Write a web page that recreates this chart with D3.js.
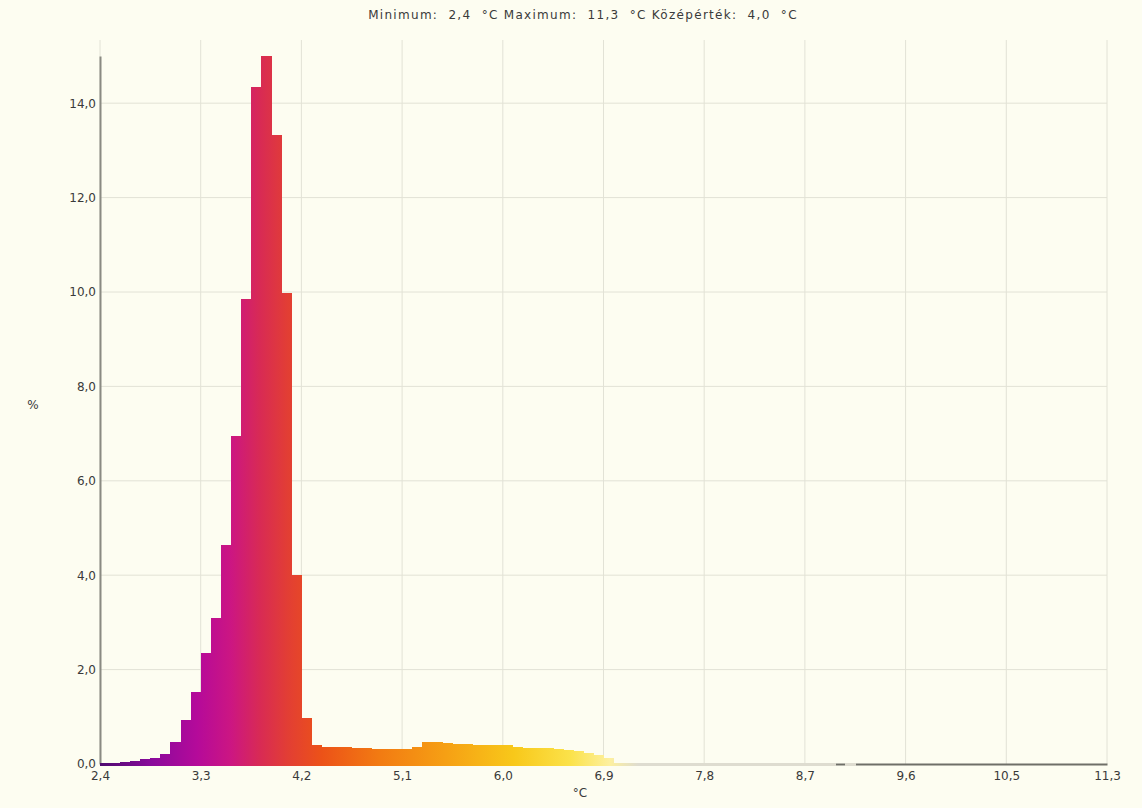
<!DOCTYPE html>
<html>
<head>
<meta charset="utf-8">
<style>
  body { margin: 0; background: #fdfdf1; }
  svg { display: block; }
  text { font-family: "DejaVu Sans", sans-serif; fill: #3a3a3a; }
</style>
</head>
<body>
<svg width="1142" height="808"></svg>
<script src="https://d3js.org/d3.v7.min.js"></script>
<script>
// temperature range of the histogram (100 equal bins)
var tMin = 2.44,
    tMax = 11.345,
    binCount = 100;

var xTickLabels = ["2,4", "3,3", "4,2", "5,1", "6,0", "6,9", "7,8", "8,7", "9,6", "10,5", "11,3"];
var yTicks = [0, 2, 4, 6, 8, 10, 12, 14];

// percent of pixels per bin, starting at tMin (bins not listed are empty)
var percent = [
  0.02, 0.03, 0.05, 0.07, 0.10, 0.12, 0.22, 0.47, 0.93, 1.52,
  2.35, 3.10, 4.64, 6.95, 9.85, 14.35, 15.0, 13.33, 9.98, 4.00,
  0.97, 0.40, 0.36, 0.35, 0.35, 0.34, 0.33, 0.32, 0.32, 0.31,
  0.32, 0.36, 0.46, 0.47, 0.45, 0.43, 0.42, 0.40, 0.41, 0.41,
  0.40, 0.37, 0.34, 0.33, 0.33, 0.31, 0.29, 0.27, 0.24, 0.20,
  0.12, 0.03, 0.03, 0.03, 0.03, 0.03, 0.03, 0.03, 0.03, 0.03,
  0.03, 0.03, 0.03, 0.03, 0.03, 0.03, 0.03, 0.03, 0.03, 0.03,
  0.03, 0.03, 0.03, 0, 0.03
];

// palette (temperature -> colour)
var paletteTemps  = [2.44, 2.9, 3.3, 3.6, 3.85, 4.1, 4.4, 4.9, 5.5, 6.1, 6.6, 6.95, 7.2];
var paletteColors = ["#4e0a70", "#8a0a9c", "#b50a9a", "#cc1682", "#d82a55", "#e23e34", "#ec5218",
                     "#f27a12", "#f6a014", "#f8c81a", "#fbe24a", "#fdf0a0", "#dedcd0"];

var title = "Minimum:  2,4  °C Maximum:  11,3  °C Középérték:  4,0  °C";

var svg = d3.select("svg"),
    margin = {top: 56, right: 35, bottom: 44, left: 100},
    width = +svg.attr("width"),
    height = +svg.attr("height");

var x = d3.scaleLinear()
    .domain([tMin, tMax])
    .range([margin.left, width - margin.right]);

var y = d3.scaleLinear()
    .domain([0, 15])
    .range([height - margin.bottom, margin.top]);

var binW = (tMax - tMin) / binCount;
var xTicks = d3.range(xTickLabels.length).map(function(i) { return tMin + i * (tMax - tMin) / 10; });

// gradient across the whole temperature range
var grad = svg.append("defs").append("linearGradient")
    .attr("id", "palette")
    .attr("gradientUnits", "userSpaceOnUse")
    .attr("x1", x(tMin)).attr("x2", x(tMax))
    .attr("y1", 0).attr("y2", 0);

grad.selectAll("stop")
    .data(paletteTemps)
    .enter().append("stop")
    .attr("offset", function(d) { return (d - tMin) / (tMax - tMin); })
    .attr("stop-color", function(d, i) { return paletteColors[i]; });

// grid
svg.append("g")
    .selectAll("line")
    .data(xTicks)
    .enter().append("line")
    .attr("x1", function(d) { return x(d); })
    .attr("x2", function(d) { return x(d); })
    .attr("y1", margin.top - 16)
    .attr("y2", y(0))
    .attr("stroke", "#e2e2d6");

svg.append("g")
    .selectAll("line")
    .data(yTicks.slice(1))
    .enter().append("line")
    .attr("x1", x(tMin))
    .attr("x2", x(tMax))
    .attr("y1", function(d) { return y(d); })
    .attr("y2", function(d) { return y(d); })
    .attr("stroke", "#e2e2d6");

// axes
svg.append("g")
    .attr("class", "axis axis--x")
    .attr("transform", "translate(0," + y(0) + ")")
    .call(d3.axisBottom(x).tickValues(xTicks).tickSize(0).tickPadding(7)
        .tickFormat(function(d, i) { return xTickLabels[i]; }))
    .call(function(g) {
        g.select(".domain").attr("stroke", "#6f6f68").attr("stroke-width", 2);
        g.selectAll("text").attr("font-size", 12).attr("fill", "#3a3a3a");
    });

svg.append("g")
    .attr("class", "axis axis--y")
    .attr("transform", "translate(" + x(tMin) + ",0)")
    .call(d3.axisLeft(y).tickValues(yTicks).tickSize(0).tickPadding(4)
        .tickFormat(function(d) { return d3.format(".1f")(d).replace(".", ","); }))
    .call(function(g) {
        g.select(".domain").attr("stroke", "#8a8a82").attr("stroke-width", 2);
        g.selectAll("text").attr("font-size", 12).attr("fill", "#3a3a3a");
    });

// bars
svg.append("g")
    .attr("fill", "url(#palette)")
    .attr("shape-rendering", "crispEdges")
    .selectAll("rect")
    .data(percent.map(function(v, i) { return {x0: tMin + i * binW, x1: tMin + (i + 1) * binW, v: v}; })
        .filter(function(d) { return d.v > 0; }))
    .enter().append("rect")
    .attr("x", function(d) { return x(d.x0); })
    .attr("width", function(d) { return x(d.x1) - x(d.x0) + 0.5; })
    .attr("y", function(d) { return y(d.v); })
    .attr("height", function(d) { return y(0) - y(d.v) + 1.5; });

// labels
svg.append("text")
    .attr("x", 583)
    .attr("y", 19)
    .attr("text-anchor", "middle")
    .attr("font-size", 12)
    .attr("letter-spacing", 1.3)
    .style("white-space", "pre")
    .text(title);

svg.append("text")
    .attr("x", 33)
    .attr("y", 409)
    .attr("text-anchor", "middle")
    .attr("font-size", 12)
    .text("%");

svg.append("text")
    .attr("x", 580)
    .attr("y", 797)
    .attr("text-anchor", "middle")
    .attr("font-size", 12)
    .text("°C");
</script>
</body>
</html>
